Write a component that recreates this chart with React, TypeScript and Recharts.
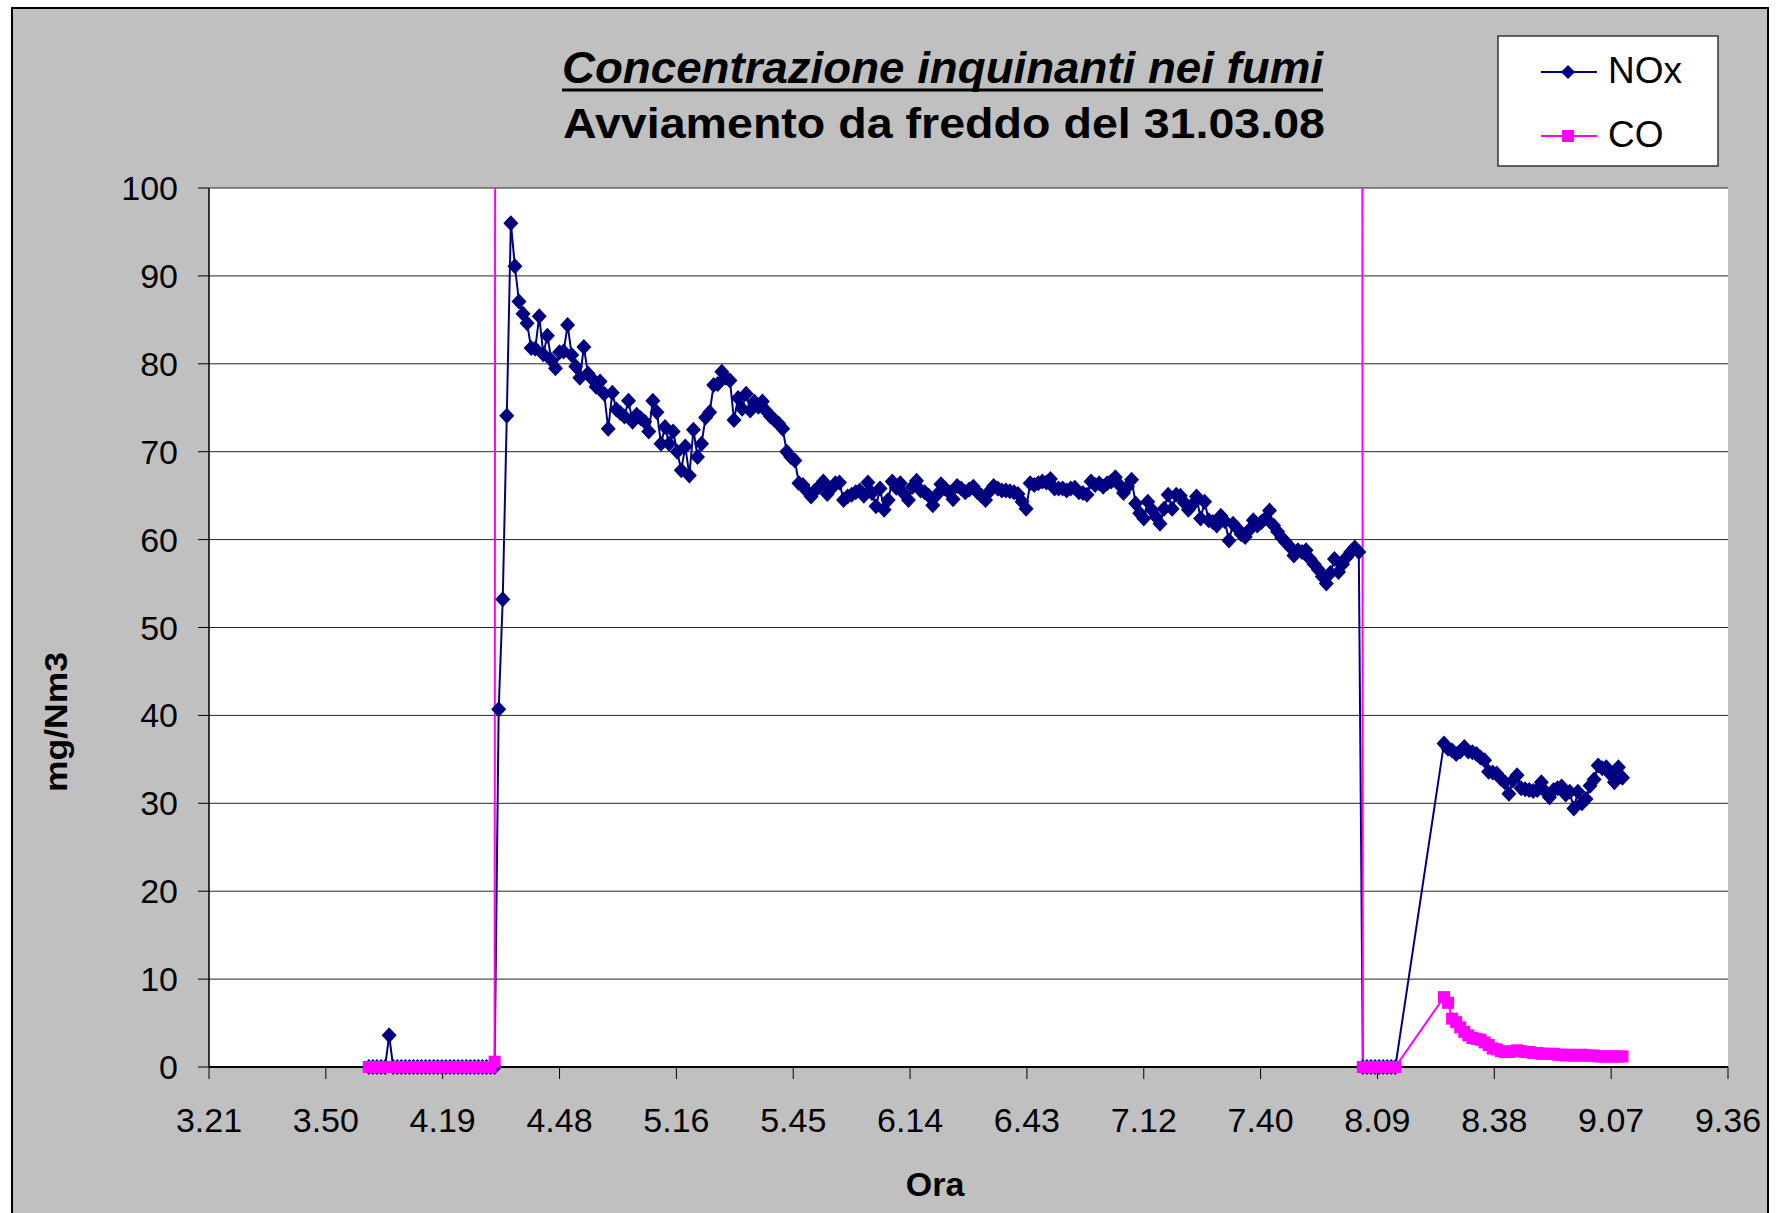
import { CartesianGrid, Line, LineChart, XAxis, YAxis } from 'recharts'

const FONT = '"Liberation Sans", Arial, Helvetica, sans-serif'
const NOX_COLOR = '#000080'
const CO_COLOR = '#ff00ff'

// x axis: minutes after midnight, Excel major unit 0.02 day
const timeTicks = [201.6, 230.4, 259.2, 288, 316.8, 345.6, 374.4, 403.2, 432, 460.8, 489.6, 518.4, 547.2, 576]
const timeLabels = ['3.21', '3.50', '4.19', '4.48', '5.16', '5.45', '6.14', '6.43', '7.12', '7.40', '8.09', '8.38', '9.07', '9.36']
const valueTicks = [0, 10, 20, 30, 40, 50, 60, 70, 80, 90, 100]

// one sample per minute, each run starts at the given minute
const RUN_A_START = 241 // 4.01, burner off
const noxRunA = [
  0, 0, 0, 0, 0, 3.6, 0, 0, 0, 0,
  0, 0, 0, 0, 0, 0, 0, 0, 0, 0,
  0, 0, 0, 0, 0, 0, 0, 0, 0, 0,
  0, 0,
]
const coRunA = [
  0, 0, 0, 0, 0, 0, 0, 0, 0, 0,
  0, 0, 0, 0, 0, 0, 0, 0, 0, 0,
  0, 0, 0, 0, 0, 0, 0, 0, 0, 0,
  0, 0.6,
]

const RUN_B_START = 273 // 4.33, cold start
const noxRunB = [
  40.7, 53.2, 74.1, 96.0, 91.1, 87.1, 85.7, 84.6, 81.8, 81.7,
  85.4, 81.1, 83.2, 80.4, 79.5, 81.3, 81.4, 84.4, 81.0, 79.7,
  78.4, 81.9, 78.9, 78.3, 77.4, 78.0, 76.6, 72.6, 76.7, 74.8,
  74.4, 74.0, 75.8, 73.4, 74.2, 73.8, 73.4, 72.3, 75.8, 74.5,
  70.9, 72.8, 70.9, 72.3, 70.0, 67.9, 70.6, 67.3, 72.5, 69.4,
  70.9, 73.9, 74.5, 77.6, 77.7, 79.1, 78.4, 78.1, 73.6, 76.1,
  74.9, 76.6, 74.7, 75.7, 75.1, 75.7, 74.6, 74.0, 73.6, 73.2,
  72.6, 70.0, 69.4, 69.0, 66.4, 66.2, 65.5, 64.9, 65.6, 66.0,
  66.6, 65.2, 65.8, 66.4, 66.5, 64.5, 64.9, 65.1, 65.4, 65.6,
  65.0, 66.5, 65.3, 63.8, 65.8, 63.4, 64.5, 66.6, 65.9, 66.4,
  65.2, 64.5, 66.0, 66.7, 65.6, 65.4, 65.0, 63.9, 65.1, 66.3,
  65.8, 65.4, 64.6, 66.1, 65.8, 65.4, 65.7, 66.0, 65.4, 65.0,
  64.5, 65.5, 66.1, 65.8, 65.6, 65.6, 65.5, 65.4, 65.2, 64.3,
  63.5, 66.4, 66.2, 66.4, 66.6, 66.5, 66.9, 65.8, 65.8, 65.8,
  65.6, 65.8, 65.9, 65.4, 65.3, 65.1, 66.6, 66.2, 66.4, 66.0,
  66.4, 66.6, 67.1, 66.2, 65.3, 66.0, 66.8, 64.1, 63.0, 62.4,
  64.3, 63.4, 62.6, 61.8, 63.5, 65.1, 63.5, 65.1, 65.0, 64.2,
  63.4, 64.0, 64.9, 62.4, 64.3, 62.2, 62.0, 61.6, 62.7, 62.1,
  59.9, 61.8, 61.3, 60.6, 60.3, 61.1, 62.2, 61.6, 62.0, 62.4,
  63.3, 61.6, 60.9, 60.2, 59.7, 59.2, 58.2, 58.8, 58.6, 58.8,
  57.8, 57.2, 56.6, 55.8, 55.0, 56.2, 57.8, 56.3, 57.2, 58.0,
  58.6, 59.1, 58.6,
]

const RUN_C_START = 486 // 8.06, shutdown
const noxRunC = [0, 0, 0, 0, 0, 0, 0, 0, 0]
const coRunC = [0, 0, 0, 0, 0, 0, 0, 0, 0]

const RUN_D_START = 506 // 8.26, restart
const noxRunD = [
  36.8, 36.2, 36.0, 35.6, 35.9, 36.4, 35.9, 35.8, 35.6, 35.2,
  34.9, 33.6, 33.5, 33.4, 32.8, 32.4, 31.1, 32.6, 33.2, 31.7,
  31.6, 31.5, 31.4, 31.5, 32.4, 31.3, 30.7, 31.5, 31.7, 31.9,
  31.0, 31.3, 29.4, 31.3, 30.0, 30.5, 32.0, 32.7, 34.3, 34.0,
  34.1, 33.3, 32.4, 34.1, 32.9,
]
const coRunD = [
  7.95, 7.3, 5.5, 5.1, 4.5, 4.0, 3.6, 3.3, 3.2, 3.1,
  2.8, 2.5, 2.1, 2.0, 1.8, 1.7, 1.7, 1.8, 1.9, 1.8,
  1.7, 1.7, 1.6, 1.6, 1.5, 1.5, 1.5, 1.5, 1.4, 1.4,
  1.3, 1.4, 1.3, 1.3, 1.4, 1.3, 1.3, 1.3, 1.2, 1.2,
  1.2, 1.2, 1.2, 1.2, 1.2,
]

// CO above the scale while the burner runs (value not readable, clipped)
const coOverRange: Array<[number, number]> = [
  [272, 0.6],
  [273, 850],
  [485, 850],
  [486, 0],
]

type Row = { t: number; nox?: number; co?: number; coHigh?: number }

function buildRows(): Row[] {
  const rows = new Map<number, Row>()
  const put = (start: number, values: number[], key: 'nox' | 'co' | 'coHigh') => {
    values.forEach((v, i) => {
      const t = start + i
      const row = rows.get(t) ?? { t }
      row[key] = v
      rows.set(t, row)
    })
  }
  put(RUN_A_START, noxRunA, 'nox')
  put(RUN_A_START, coRunA, 'co')
  put(RUN_B_START, noxRunB, 'nox')
  put(RUN_C_START, noxRunC, 'nox')
  put(RUN_C_START, coRunC, 'co')
  put(RUN_D_START, noxRunD, 'nox')
  put(RUN_D_START, coRunD, 'co')
  coOverRange.forEach(([t, v]) => put(t, [v], 'coHigh'))
  return [...rows.values()].sort((a, b) => a.t - b.t)
}

const rows = buildRows()

function DiamondDot(props: any) {
  const { cx, cy, index } = props
  if (cx == null || cy == null) return <g key={`nd-${index}`} />
  return (
    <path
      key={`nd-${index}`}
      d={`M${cx},${cy - 8}L${cx + 7.5},${cy}L${cx},${cy + 8}L${cx - 7.5},${cy}Z`}
      fill={NOX_COLOR}
    />
  )
}

function SquareDot(props: any) {
  const { cx, cy, index } = props
  if (cx == null || cy == null) return <g key={`cd-${index}`} />
  return <rect key={`cd-${index}`} x={cx - 6} y={cy - 6} width={12} height={12} fill={CO_COLOR} />
}

export default function App() {
  const tickStyle = { fill: '#000', fontSize: 34, fontFamily: FONT }

  return (
    <div style={{ position: 'absolute', left: 0, top: 0, width: 1777, height: 1213, background: '#fff', overflow: 'hidden' }}>
      <div
        style={{
          position: 'absolute',
          left: 11,
          top: 7,
          width: 1758,
          height: 1240,
          background: '#c0c0c0',
          border: '2px solid #000',
          boxSizing: 'border-box',
        }}
      />

      <div style={{ position: 'absolute', left: 0, top: 0 }}>
        <LineChart width={1777} height={1213} data={rows} margin={{ top: 188, right: 49, bottom: 66, left: 0 }}>
          <CartesianGrid yAxisId="val" vertical={false} stroke="#262626" strokeWidth={1} fill="#ffffff" fillOpacity={1} />
          <XAxis
            type="number"
            dataKey="t"
            domain={[201.6, 576]}
            ticks={timeTicks}
            interval={0}
            tickFormatter={(_v: number, i: number) => timeLabels[i]}
            height={80}
            tickSize={12}
            tickMargin={29}
            axisLine={{ stroke: '#000', strokeWidth: 2 }}
            tickLine={{ stroke: '#000', strokeWidth: 1 }}
            tick={tickStyle}
          />
          <YAxis
            yAxisId="val"
            domain={[0, 100]}
            ticks={valueTicks}
            interval={0}
            width={209}
            tickSize={11}
            tickMargin={20}
            axisLine={{ stroke: '#000', strokeWidth: 1.5 }}
            tickLine={{ stroke: '#000', strokeWidth: 1 }}
            tick={tickStyle}
          />
          <YAxis yAxisId="over" hide width={0} domain={[0, 100]} allowDataOverflow />
          <Line
            yAxisId="val"
            type="linear"
            dataKey="nox"
            stroke={NOX_COLOR}
            strokeWidth={2}
            dot={DiamondDot}
            activeDot={false}
            isAnimationActive={false}
          />
          <Line
            yAxisId="over"
            type="linear"
            dataKey="coHigh"
            stroke={CO_COLOR}
            strokeWidth={2}
            dot={false}
            activeDot={false}
            isAnimationActive={false}
          />
          <Line
            yAxisId="val"
            type="linear"
            dataKey="co"
            stroke={CO_COLOR}
            strokeWidth={2}
            dot={SquareDot}
            activeDot={false}
            isAnimationActive={false}
          />
        </LineChart>
      </div>

      <svg width={1777} height={1213} style={{ position: 'absolute', left: 0, top: 0, pointerEvents: 'none' }}>
        <g fontFamily={FONT} fill="#000">
          <text x={562} y={83} fontSize={44} fontWeight="bold" fontStyle="italic" textLength={761} lengthAdjust="spacingAndGlyphs">
            Concentrazione inquinanti nei fumi
          </text>
          <rect x={562} y={88.5} width={761} height={3} fill="#000" />
          <text x={563} y={138} fontSize={43} fontWeight="bold" textLength={762} lengthAdjust="spacingAndGlyphs">
            Avviamento da freddo del 31.03.08
          </text>

          <text x={935} y={1196} fontSize={34} fontWeight="bold" textAnchor="middle">
            Ora
          </text>
          <text
            x={67}
            y={722}
            fontSize={32}
            fontWeight="bold"
            textAnchor="middle"
            transform="rotate(-90 67 722)"
            textLength={140}
            lengthAdjust="spacingAndGlyphs"
          >
            mg/Nm3
          </text>
        </g>

        <g>
          <rect x={1498} y={36} width={220} height={130} fill="#fff" stroke="#333" strokeWidth={1.5} />
          <line x1={1541} x2={1597} y1={72} y2={72} stroke={NOX_COLOR} strokeWidth={2} />
          <path d="M1568,65L1575,72L1568,79L1561,72Z" fill={NOX_COLOR} />
          <text x={1608} y={83} fontSize={37} fontFamily={FONT} fill="#000">
            NOx
          </text>
          <line x1={1541} x2={1597} y1={136} y2={136} stroke={CO_COLOR} strokeWidth={2} />
          <rect x={1562} y={130} width={12} height={12} fill={CO_COLOR} />
          <text x={1608} y={147} fontSize={37} fontFamily={FONT} fill="#000">
            CO
          </text>
        </g>
      </svg>
    </div>
  )
}
